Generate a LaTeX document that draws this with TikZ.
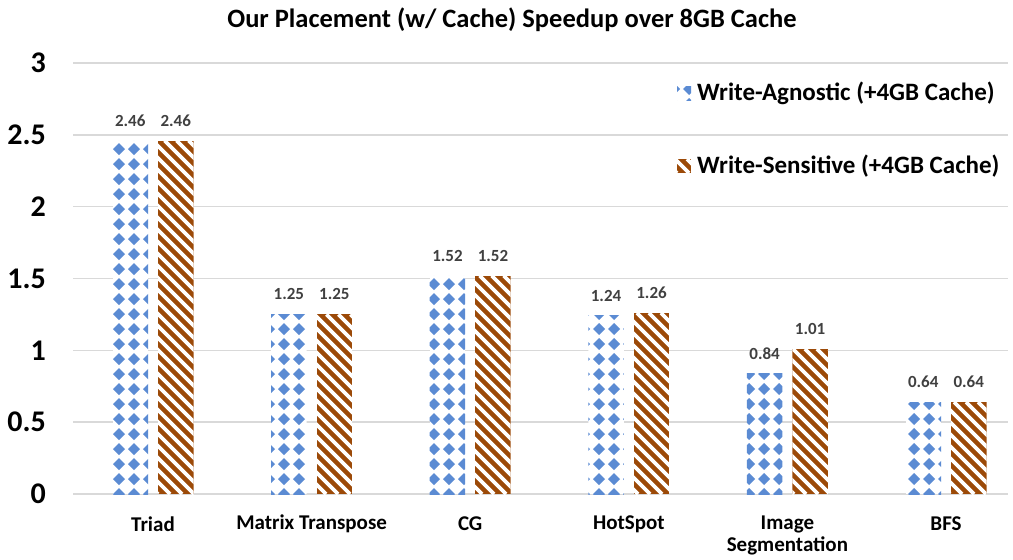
\documentclass[tikz,border=0pt]{standalone}
\usepackage{fontspec}
\setmainfont{Carlito}
\definecolor{agn}{HTML}{5B8BD3}
\definecolor{sen}{HTML}{9C4A08}
\definecolor{gridc}{HTML}{D9D9D9}
\definecolor{vallab}{HTML}{404040}

% value -> pixel row of the plot (0 at 494, 3 at 63)
\newcommand{\ypos}[1]{494-143.67*#1}

% diamond-patterned fill of the rectangle (#1,#2)-(#3,#4), x1<x2, y1<y2
\newcommand{\diamondfill}[4]{%
  \begin{scope}
    \clip (#1,#2) rectangle (#3,#4);
    \fill[white] (#1,#2) rectangle (#3,#4);
    \pgfmathtruncatemacro{\cmin}{floor((#1-20)/15)}%
    \pgfmathtruncatemacro{\cmax}{ceil((#3+6)/15)}%
    \pgfmathtruncatemacro{\rmin}{floor((#2-20)/15)}%
    \pgfmathtruncatemacro{\rmax}{ceil((#4+6)/15)}%
    \foreach \c in {\cmin,...,\cmax}{%
      \foreach \r in {\rmin,...,\rmax}{%
        \fill[agn] ({15*\c+14-6},{15*\r+14}) -- ({15*\c+14},{15*\r+14-6})
          -- ({15*\c+14+6},{15*\r+14}) -- ({15*\c+14},{15*\r+14+6}) -- cycle;
      }%
    }%
  \end{scope}%
}

% striped fill of the rectangle (#1,#2)-(#3,#4)
\newcommand{\stripefill}[4]{%
  \begin{scope}
    \clip (#1,#2) rectangle (#3,#4);
    \fill[sen] (#1,#2) rectangle (#3,#4);
    \pgfmathtruncatemacro{\kmin}{floor((#1-#4)/12)-1}%
    \pgfmathtruncatemacro{\kmax}{ceil((#3-#2)/12)+1}%
    \foreach \k in {\kmin,...,\kmax}{%
      \draw[white, line width=3.6pt] ({12*\k+#2},#2) -- ({12*\k+#4},#4);
    }%
  \end{scope}%
}

% one category: #1 centre x, #2 write-agnostic value, #3 write-sensitive value, #4 name
\newcommand{\category}[4]{%
  \pgfmathsetmacro{\ya}{\ypos{#2}}%
  \pgfmathsetmacro{\yb}{\ypos{#3}}%
  \diamondfill{#1-40.5}{\ya}{#1-5}{494}
  \stripefill{#1+5}{\yb}{#1+40.5}{494}
  \node[vallab txt] (va-#4) at (#1-22.75,\ya-20) {#2};
  \node[vallab txt] (vb-#4) at (#1+22.75,\yb-20) {#3};
}

\tikzset{
  vallab txt/.style={font=\fontsize{17}{19}\selectfont\bfseries, text=vallab, inner sep=0pt},
  cat txt/.style={font=\fontsize{21}{23}\selectfont\bfseries, inner sep=0pt, align=center},
  tick txt/.style={font=\fontsize{30}{32}\selectfont\bfseries, inner sep=0pt, anchor=east},
  leg txt/.style={font=\fontsize{25}{27}\selectfont\bfseries, inner sep=0pt, anchor=west},
  gridline/.style={draw=gridc, line width=1.4pt},
}

\begin{document}
\begin{tikzpicture}[x=1pt,y=-1pt]
  \useasboundingbox (0,0) rectangle (1013,560);

  % horizontal grid and tick labels
  \foreach \v/\lab in {0/0,0.5/0.5,1/1,1.5/1.5,2/2,2.5/2.5,3/3}{%
    \draw[gridline] (73,{\ypos{\v}}) -- (1008,{\ypos{\v}});
    \node[tick txt] (tick-\lab) at (46,{\ypos{\v}}) {\lab};
  }

  % title
  \node[font=\fontsize{26.5}{28}\selectfont\bfseries, inner sep=0pt] (title) at (512,20)
    {Our Placement (w/ Cache) Speedup over 8GB Cache};

  % bars
  \category{153}{2.46}{2.46}{triad}
  \category{311.6}{1.25}{1.25}{mt}
  \category{470.2}{1.52}{1.52}{cg}
  \category{628.8}{1.24}{1.26}{hs}
  \category{787.4}{0.84}{1.01}{is}
  \category{946}{0.64}{0.64}{bfs}

  % category labels
  \node[cat txt] (c-triad) at (153,524) {Triad};
  \node[cat txt] (c-mt) at (311.6,524) {Matrix Transpose};
  \node[cat txt] (c-cg) at (470.2,524) {CG};
  \node[cat txt] (c-hs) at (628.8,524) {HotSpot};
  \node[cat txt] (c-is) at (787.4,535) {Image\\[-1pt]Segmentation};
  \node[cat txt] (c-bfs) at (946,524) {BFS};

  % legend
  \diamondfill{677}{86}{691}{100}
  \node[leg txt] (leg-a) at (697,93) {Write-Agnostic (+4GB Cache)};
  \stripefill{677}{159}{691}{173}
  \node[leg txt] (leg-b) at (697,166) {Write-Sensitive (+4GB Cache)};
\end{tikzpicture}
\end{document}
